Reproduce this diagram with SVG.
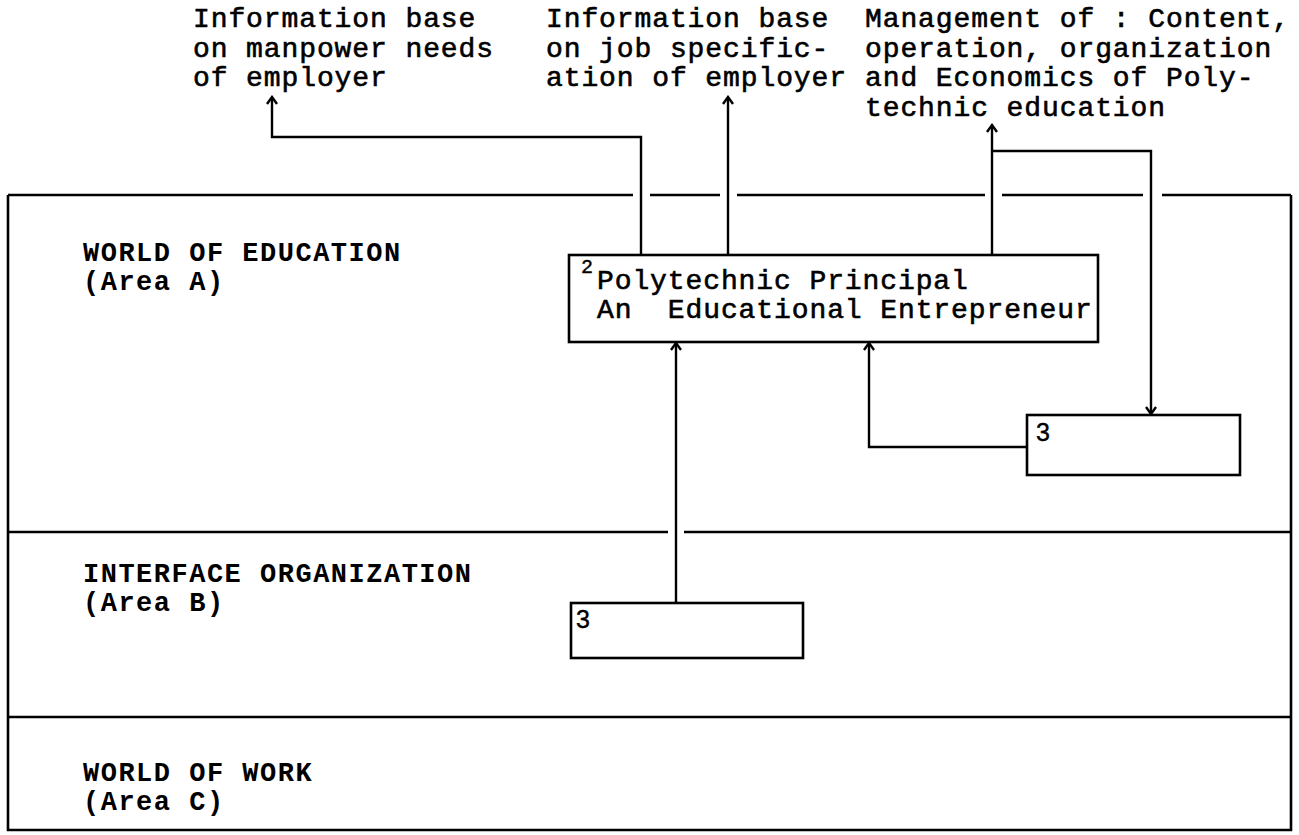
<svg xmlns="http://www.w3.org/2000/svg" width="1299" height="835" viewBox="0 0 1299 835">
  <defs>
    <style>
      .mono { font-family: 'Liberation Mono', 'Courier New', monospace; font-size: 28px; letter-spacing: 0.9px; fill: #000; stroke: #000; stroke-width: 0.6; white-space: pre; }
      .area { font-family: 'Liberation Mono', 'Courier New', monospace; font-size: 27px; font-weight: bold; letter-spacing: 1.5px; fill: #000; white-space: pre; }
      .num { font-family: 'Liberation Sans', Arial, sans-serif; font-size: 25px; fill: #000; stroke: #000; stroke-width: 0.4; }
      .sup { font-family: 'Liberation Mono', 'Courier New', monospace; font-size: 20px; fill: #000; stroke: #000; stroke-width: 0.4; }
      .frame { fill: none; stroke: #000; stroke-width: 2.6; }
      .box { fill: #fff; stroke: #000; stroke-width: 2.6; }
      .conn { fill: none; stroke: #000; stroke-width: 2.4; }
    </style>
    <marker id="arrow" markerUnits="userSpaceOnUse" viewBox="-10 -7 12 14" refX="0" refY="0" markerWidth="12" markerHeight="14" orient="auto">
      <path d="M -7 -5 L 0 0 L -7 5" fill="none" stroke="#000" stroke-width="2.4"/>
    </marker>
  </defs>
  <rect width="1299" height="835" fill="#fff"/>

  <!-- outer frame with the three areas; top edge broken where connectors pass -->
  <g id="frame" class="frame">
    <path d="M 8 195 H 633 M 650 195 H 720 M 737 195 H 985 M 1002 195 H 1143 M 1162 195 H 1291"/>
    <path d="M 8 195 V 830 H 1291 V 195"/>
    <path d="M 8 532 H 668 M 684 532 H 1291"/>
    <path d="M 8 717 H 1291"/>
  </g>

  <!-- top notes -->
  <g id="note-manpower">
    <text class="mono" x="193" y="27">Information base</text>
    <text class="mono" x="193" y="56.5">on manpower needs</text>
    <text class="mono" x="193" y="86">of employer</text>
  </g>
  <g id="note-jobspec">
    <text class="mono" x="546" y="27">Information base</text>
    <text class="mono" x="546" y="56.5">on job specific-</text>
    <text class="mono" x="546" y="86">ation of employer</text>
  </g>
  <g id="note-management">
    <text class="mono" x="865" y="27">Management of : Content,</text>
    <text class="mono" x="865" y="56.5">operation, organization</text>
    <text class="mono" x="865" y="86">and Economics of Poly-</text>
    <text class="mono" x="865" y="115.5">technic education</text>
  </g>

  <!-- area labels -->
  <g id="area-a">
    <text class="area" x="83" y="261">WORLD OF EDUCATION</text>
    <text class="area" x="83" y="290">(Area A)</text>
  </g>
  <g id="area-b">
    <text class="area" x="83" y="582">INTERFACE ORGANIZATION</text>
    <text class="area" x="83" y="611">(Area B)</text>
  </g>
  <g id="area-c">
    <text class="area" x="83" y="781">WORLD OF WORK</text>
    <text class="area" x="83" y="810">(Area C)</text>
  </g>

  <!-- connectors -->
  <g id="connectors" class="conn">
    <path d="M 641 255 V 137 H 272 V 97" marker-end="url(#arrow)"/>
    <path d="M 728 255 V 97" marker-end="url(#arrow)"/>
    <path d="M 992 255 V 125" marker-end="url(#arrow)"/>
    <path d="M 992 151 H 1151 V 414" marker-end="url(#arrow)"/>
    <path d="M 1027 447 H 869 V 343" marker-end="url(#arrow)"/>
    <path d="M 676 603 V 343" marker-end="url(#arrow)"/>
  </g>

  <!-- principal node -->
  <g id="principal">
    <rect class="box" x="569" y="255" width="529" height="87"/>
    <text class="sup" x="581" y="273">2</text>
    <text class="mono" x="597" y="289">Polytechnic Principal</text>
    <text class="mono" x="597" y="318">An  Educational Entrepreneur</text>
  </g>

  <!-- unit in area A -->
  <g id="unit-a">
    <rect class="box" x="1027" y="415" width="213" height="60"/>
    <text class="num" x="1036" y="441">3</text>
  </g>

  <!-- unit in area B -->
  <g id="unit-b">
    <rect class="box" x="571" y="603" width="232" height="55"/>
    <text class="num" x="576" y="628">3</text>
  </g>
</svg>
